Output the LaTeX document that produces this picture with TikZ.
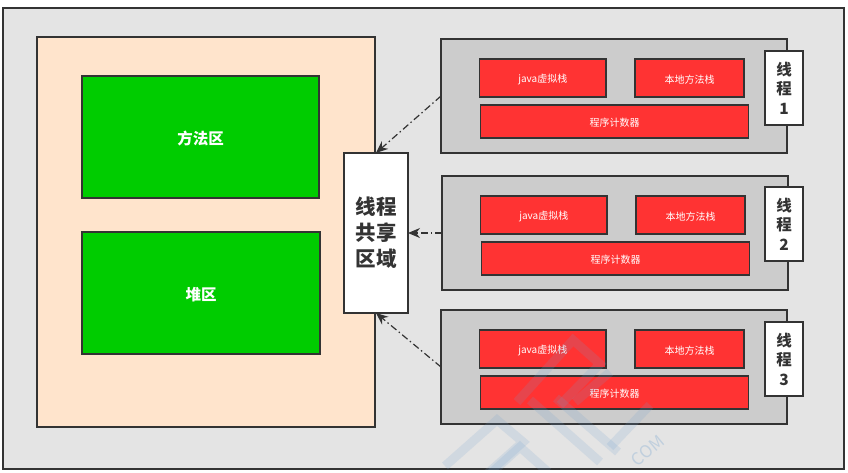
\documentclass[tikz,border=0pt]{standalone}
\usepackage{fontspec}
\setmainfont{Noto Sans CJK SC}
\usetikzlibrary{arrows.meta}
\definecolor{linegray}{HTML}{333333}
\definecolor{outergray}{HTML}{E4E4E4}
\definecolor{threadgray}{HTML}{CCCCCC}
\definecolor{peach}{HTML}{FFE4CC}
\definecolor{areagreen}{HTML}{00CC00}
\definecolor{stackred}{HTML}{FF3333}
\definecolor{markblue}{HTML}{6FA0CF}
\tikzset{
  box/.style={draw=linegray, line width=1.25pt, inner sep=0pt, outer sep=0pt, align=center, anchor=north west,
    execute at begin node={\rule{0pt}{1.1em}}},
  areabox/.style={box, fill=areagreen, text=white, font=\fontsize{15.5}{18}\selectfont\bfseries},
  threadbox/.style={box, fill=threadgray},
  stackbox/.style={box, fill=stackred, text=white, font=\fontsize{10}{12}\selectfont},
  tagbox/.style={box, fill=white, text=linegray, font=\fontsize{15.5}{19.5}\selectfont\bfseries},
  flow/.style={draw=linegray, line width=1.2pt, dash pattern=on 7pt off 3pt on 1.5pt off 3pt, -{Stealth[length=12pt,width=10pt]}},
  markstroke/.style={draw=markblue, line width=9pt, opacity=0.17, line join=miter}
}
\begin{document}
\begin{tikzpicture}[x=1pt,y=-1pt]
  \useasboundingbox (0,0) rectangle (848,472);
  \node[box, fill=outergray, minimum width=841pt, minimum height=461pt] (outer) at (3,8) {};
  \node[box, fill=peach, minimum width=338pt, minimum height=390pt] (heap) at (37,37) {};
  \node[areabox, minimum width=237pt, minimum height=122pt] (method) at (82,76) {方法区};
  \node[areabox, minimum width=238pt, minimum height=122pt] (pile) at (82,232) {堆区};
  \node[box, fill=white, text=linegray, minimum width=64pt, minimum height=160pt,
    font=\fontsize{20.5}{26}\selectfont\bfseries] (shared) at (344,153) {线程\\共享\\区域};
  \foreach \n/\x/\y/\tagx/\tagy in {1/441/39/765/51, 2/442/176/765/187, 3/441/310/765/322} {
    \node[threadbox, minimum width=346pt, minimum height=114pt] (thread\n) at (\x,\y) {};
    \node[stackbox, minimum width=126.5pt, minimum height=38pt] (java\n) at (\x+38.5,\y+20) {java虚拟栈};
    \node[stackbox, minimum width=109pt, minimum height=38pt] (native\n) at (\x+194,\y+20) {本地方法栈};
    \node[stackbox, minimum width=268pt, minimum height=33pt] (pc\n) at (\x+39.5,\y+66) {程序计数器};
    \node[tagbox, minimum width=38pt, minimum height=74pt] (tag\n) at (\tagx,\tagy) {线\\程\\\n};
  }
  \draw[flow] (thread1.west) -- (shared.north);
  \draw[flow] (thread2.west) -- (shared.east);
  \draw[flow] (thread3.west) -- (shared.south);
  % watermark
  \begin{scope}
    \clip (outer.north west) rectangle (outer.south east);
    \draw[markstroke] (517,402) -- (573,340) -- (600,364) -- (560,405);
    \draw[markstroke] (530,400) -- (600,462) (556,398) -- (618,452);
    \draw[markstroke] (575,402) -- (610,372);
    \draw[markstroke] (610,447) -- (650,405);
    \draw[markstroke] (445,466) -- (497,420) -- (523,442) -- (487,474);
    \draw[markstroke] (490,474) -- (520,447) -- (548,472);
    \node[text=markblue, opacity=0.3, rotate=40, font=\fontsize{17}{19}\selectfont] (markcom) at (648,451) {COM};
  \end{scope}
\end{tikzpicture}
\end{document}
